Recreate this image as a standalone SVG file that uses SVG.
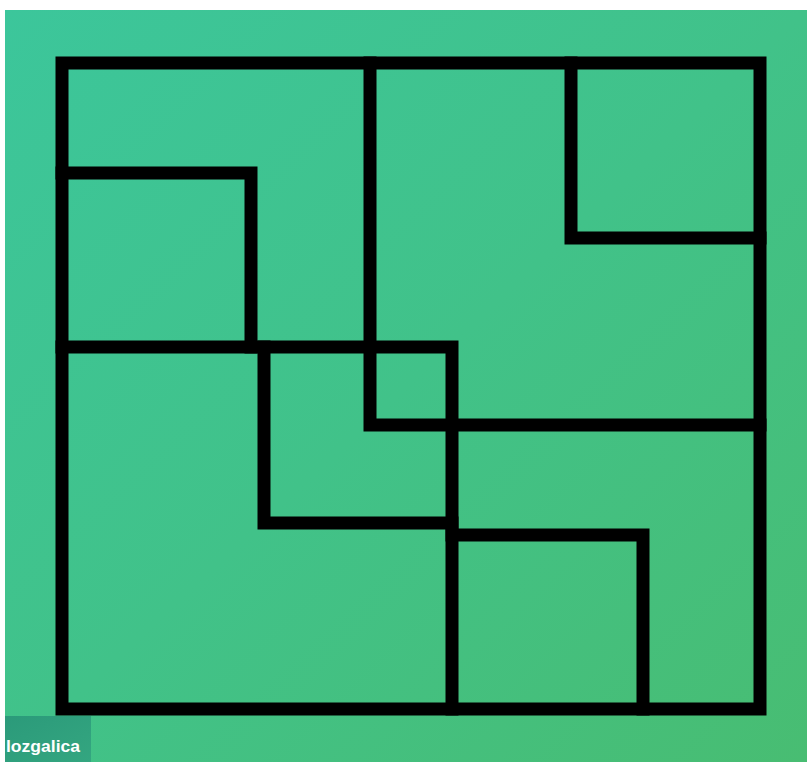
<svg xmlns="http://www.w3.org/2000/svg" width="807" height="762" viewBox="0 0 807 762">
<defs>
<linearGradient id="bg" x1="0" y1="0" x2="1" y2="1">
<stop offset="0" stop-color="#3cc69b"/>
<stop offset="0.5" stop-color="#41c289"/>
<stop offset="1" stop-color="#48bd72"/>
</linearGradient>
<linearGradient id="wm" x1="0" y1="0" x2="1" y2="1">
<stop offset="0" stop-color="#2b9a7a"/>
<stop offset="1" stop-color="#34a680"/>
</linearGradient>
<filter id="soft" x="-5%" y="-5%" width="110%" height="110%">
<feGaussianBlur stdDeviation="0.7"/>
</filter>
</defs>
<style>
.ln{fill:none;stroke:#040604;stroke-width:13;stroke-linecap:square;stroke-linejoin:miter}
.wmtext{font-family:"Liberation Sans",Arial,sans-serif;font-weight:bold;font-size:16px;fill:#ffffff}
</style>
<rect x="0" y="0" width="807" height="762" fill="#ffffff"/>
<rect x="5" y="10" width="802" height="752" fill="url(#bg)"/>
<g id="grid" filter="url(#soft)">
<rect class="ln" x="62" y="63" width="698" height="646"/>
<path class="ln" d="M370,63 V425 H760"/>
<path class="ln" d="M571,63 V238 H760"/>
<path class="ln" d="M62,173 H251 V347"/>
<path class="ln" d="M62,347 H452 V709"/>
<path class="ln" d="M264,347 V523 H452"/>
<path class="ln" d="M452,535 H643 V709"/>
</g>
<g id="watermark">
<rect x="5" y="716" width="86" height="46" fill="url(#wm)"/>
<text class="wmtext" x="6" y="752" textLength="74" lengthAdjust="spacingAndGlyphs">lozgalica</text>
</g>
</svg>
